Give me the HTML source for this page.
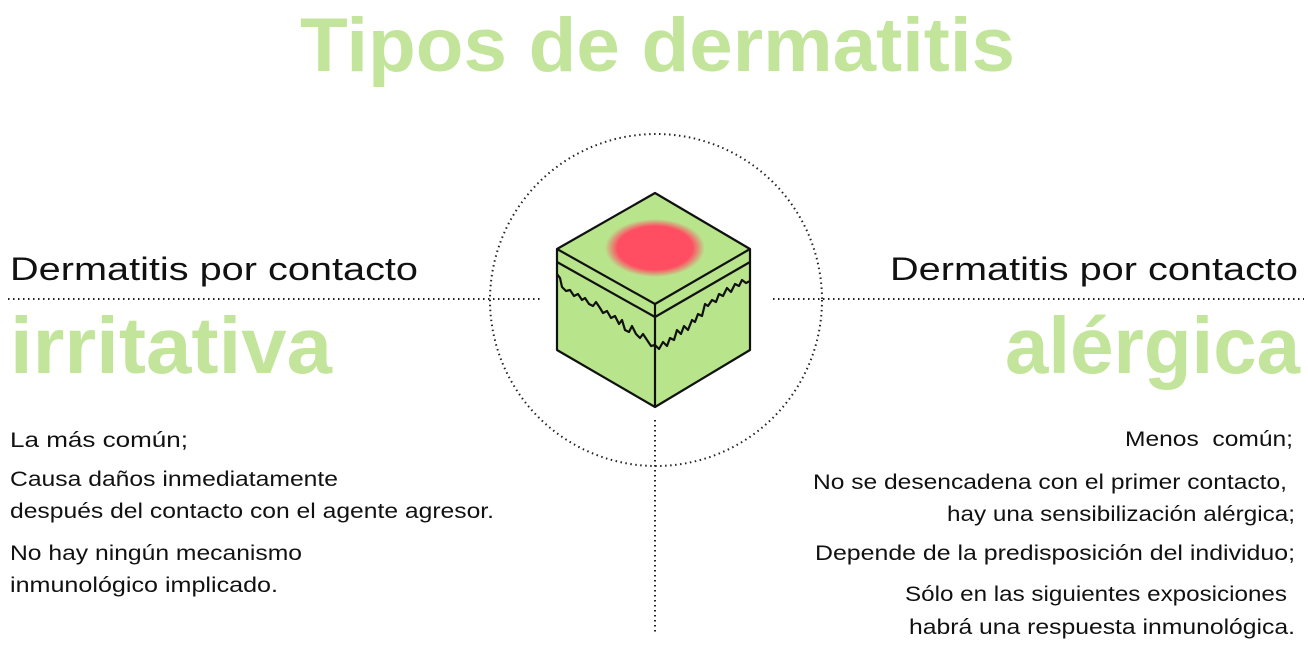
<!DOCTYPE html>
<html><head><meta charset="utf-8"><style>
html,body{margin:0;padding:0;background:#fff;}
svg{display:block;}
text{font-family:"Liberation Sans",sans-serif;}
</style></head><body>
<svg width="1308" height="648" viewBox="0 0 1308 648" xmlns="http://www.w3.org/2000/svg">
<defs>
<radialGradient id="rg" cx="50%" cy="50%" r="50%">
<stop offset="0.75" stop-color="#ff4d62"/>
<stop offset="1" stop-color="#ff4d62" stop-opacity="0"/>
</radialGradient>
</defs>
<text x="300" y="71" font-size="76" font-weight="bold" fill="#c3e59b" textLength="715" lengthAdjust="spacingAndGlyphs">Tipos de dermatitis</text>

<circle cx="656" cy="300" r="166" fill="none" stroke="#222" stroke-width="2" stroke-dasharray="1.5 3.5"/>
<line x1="8" y1="299" x2="540" y2="299" stroke="#222" stroke-width="2" stroke-dasharray="1.5 3.5"/>
<line x1="773" y1="299" x2="1304" y2="299" stroke="#222" stroke-width="2" stroke-dasharray="1.5 3.5"/>
<line x1="655" y1="420" x2="655" y2="632" stroke="#222" stroke-width="2" stroke-dasharray="1.5 3.5"/>

<g stroke="#111" stroke-width="2.2" stroke-linejoin="round" fill="#b8e58c">
<polygon points="655,193 750,249 750,350 655,407 557,350 557,249"/>
</g>
<ellipse cx="655" cy="248" rx="50" ry="29" fill="url(#rg)"/>
<g stroke="#111" stroke-width="2.2" fill="none" stroke-linejoin="round">
<polyline points="557,249 655,304 750,249"/>
<polyline points="557,262 655,317 750,262"/>
<line x1="655" y1="304" x2="655" y2="407"/>
<polyline points="557,274 560,278 562,287 566,291 570,290 574,296 578,294 582,300 585,298 589,304 593,306 596,302 600,308 603,313 607,311 611,318 615,316 619,324 622,320 625,330 629,332 632,326 636,334 640,338 643,334 647,340 651,346 655,345"/>
<polyline points="655,345 659,349 663,342 667,346 670,338 674,340 677,330 681,334 684,326 688,330 692,320 695,322 698,314 702,316 705,304 708,306 712,300 716,302 719,294 723,296 727,288 731,292 735,284 739,286 742,280 746,283 750,281"/>
</g>

<g font-size="32" fill="#111">
<text x="10" y="280" textLength="408" lengthAdjust="spacingAndGlyphs">Dermatitis por contacto</text>
<text x="890" y="280" textLength="408" lengthAdjust="spacingAndGlyphs">Dermatitis por contacto</text>
</g>
<g font-size="80" font-weight="bold" fill="#c3e59b">
<text x="10" y="373" textLength="322" lengthAdjust="spacingAndGlyphs">irritativa</text>
<text x="1005" y="373" textLength="295" lengthAdjust="spacingAndGlyphs">alérgica</text>
</g>
<g font-size="21" fill="#111">
<text x="10" y="447" textLength="178" lengthAdjust="spacingAndGlyphs">La más común;</text>
<text x="10" y="486" textLength="328" lengthAdjust="spacingAndGlyphs">Causa daños inmediatamente</text>
<text x="10" y="518" textLength="484" lengthAdjust="spacingAndGlyphs">después del contacto con el agente agresor.</text>
<text x="10" y="560" textLength="292" lengthAdjust="spacingAndGlyphs">No hay ningún mecanismo</text>
<text x="10" y="592" textLength="268" lengthAdjust="spacingAndGlyphs">inmunológico implicado.</text>
</g>
<g font-size="21" fill="#111">
<text x="1125" y="446" textLength="168" lengthAdjust="spacingAndGlyphs" xml:space="preserve">Menos  común;</text>
<text x="813" y="489" textLength="474" lengthAdjust="spacingAndGlyphs">No se desencadena con el primer contacto,</text>
<text x="947" y="521" textLength="348" lengthAdjust="spacingAndGlyphs">hay una sensibilización alérgica;</text>
<text x="815" y="560" textLength="480" lengthAdjust="spacingAndGlyphs">Depende de la predisposición del individuo;</text>
<text x="905" y="601" textLength="382" lengthAdjust="spacingAndGlyphs">Sólo en las siguientes exposiciones</text>
<text x="909" y="634" textLength="386" lengthAdjust="spacingAndGlyphs">habrá una respuesta inmunológica.</text>
</g>
</svg>
</body></html>
